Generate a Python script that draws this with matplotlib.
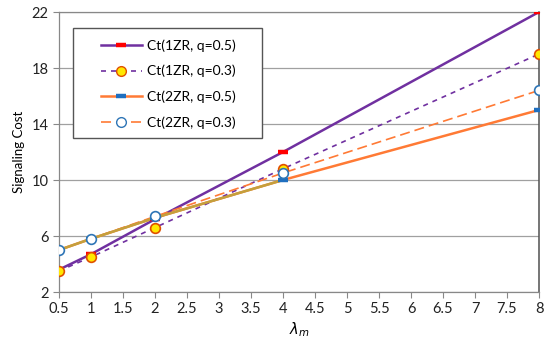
import matplotlib
matplotlib.use("Agg")
import matplotlib.pyplot as plt
from matplotlib.lines import Line2D
from matplotlib.patches import Rectangle

plt.rcParams['font.family'] = ['Lato', 'DejaVu Sans']

x = [0.5, 1, 2, 4, 8]
ct1_05 = [3.6, 4.7, 7.2, 12.0, 22.0]
ct1_03 = [3.5, 4.5, 6.6, 10.8, 19.0]
ct2_05 = [5.0, 5.8, 7.3, 10.0, 15.0]
ct2_03 = [5.0, 5.8, 7.4, 10.5, 16.4]
labels = ['Ct(1ZR, q=0.5)', 'Ct(1ZR, q=0.3)', 'Ct(2ZR, q=0.5)', 'Ct(2ZR, q=0.3)']
xticks = [0.5, 1, 1.5, 2, 2.5, 3, 3.5, 4, 4.5, 5, 5.5, 6, 6.5, 7, 7.5, 8]
yticks = [2, 6, 10, 14, 18, 22]

purple = '#7030A0'
orange = '#FF7A35'
olive = '#C4A03C'
red = '#FF0000'
blue = '#1F6FBF'

W, H = 550, 352
fig = plt.figure(figsize=(5.5, 3.52), dpi=100)
ax = fig.add_axes([59 / W, 1 - 292 / H, 480 / W, 280 / H])

ax.plot(x, ct1_05, color=purple, lw=1.8, zorder=3)
ax.plot(x, ct2_05, color=orange, lw=1.8, zorder=3)
ax.plot(x[:4], ct2_05[:4], color=olive, lw=1.8, zorder=3.1)
ax.plot(x, ct1_03, color=purple, lw=1.2, ls=(0, (3, 3)), zorder=3)
ax.plot(x, ct2_03, color=orange, lw=1.2, ls=(0, (6, 3)), zorder=3)

ax.plot(x, ct1_05, ls='none', marker='_', ms=7, mew=3.2, color=red, zorder=4)
ax.plot(x, ct2_05, ls='none', marker='_', ms=7, mew=3.2, color=blue, zorder=4)
ax.plot(x, ct1_03, ls='none', marker='o', ms=7, mfc='#FFE800', mec='#E05000', mew=1.2, zorder=5)
ax.plot(x, ct2_03, ls='none', marker='o', ms=7, mfc='white', mec='#2E75B6', mew=1.2, zorder=5)

ax.set_xlim(0.5, 8)
ax.set_ylim(2, 22)
ax.set_xticks(xticks)
ax.set_xticklabels([('%g' % t) for t in xticks])
ax.set_yticks(yticks)
ax.tick_params(axis='both', labelsize=10.5, length=4, width=0.8, direction='out',
               colors='#888888', labelcolor='#222222')
ax.grid(axis='y', color='#A0A0A0', lw=0.9, zorder=1)
ax.set_axisbelow(True)
for s in ['left', 'bottom', 'top']:
    ax.spines[s].set_color('#888888')
    ax.spines[s].set_linewidth(0.9)
ax.spines['right'].set_color('#505050')
ax.spines['right'].set_linewidth(1.1)

ax.set_ylabel('Signaling Cost', fontsize=9.5, labelpad=5)
ax.set_xlabel(r'$\lambda_m$', fontsize=10.5, labelpad=3)

# legend frame
frame = Rectangle((73 / W, 1 - 138 / H), (262 - 73) / W, (138 - 28) / H,
                  transform=fig.transFigure, facecolor='white', edgecolor='#555555',
                  lw=1.0, zorder=6)
ax.add_patch(frame)

handles = [
    Line2D([], [], color=purple, lw=1.8, marker='_', ms=7, mew=3.2, mec=red),
    Line2D([], [], color=purple, lw=1.2, ls=(0, (3, 3)), marker='o', ms=7, mfc='#FFE800', mec='#E05000'),
    Line2D([], [], color=orange, lw=1.8, marker='_', ms=7, mew=3.2, mec=blue),
    Line2D([], [], color=orange, lw=1.2, ls=(0, (6, 3)), marker='o', ms=7, mfc='white', mec='#2E75B6'),
]
leg = ax.legend(handles, labels, loc='center', bbox_to_anchor=(168 / W, 1 - 84 / H),
                bbox_transform=fig.transFigure,
                fontsize=10, frameon=False, handlelength=2.95,
                labelspacing=0.95, borderpad=0, handletextpad=0.35, borderaxespad=0)
leg.set_zorder(7)

fig.savefig('out.png', dpi=100)
